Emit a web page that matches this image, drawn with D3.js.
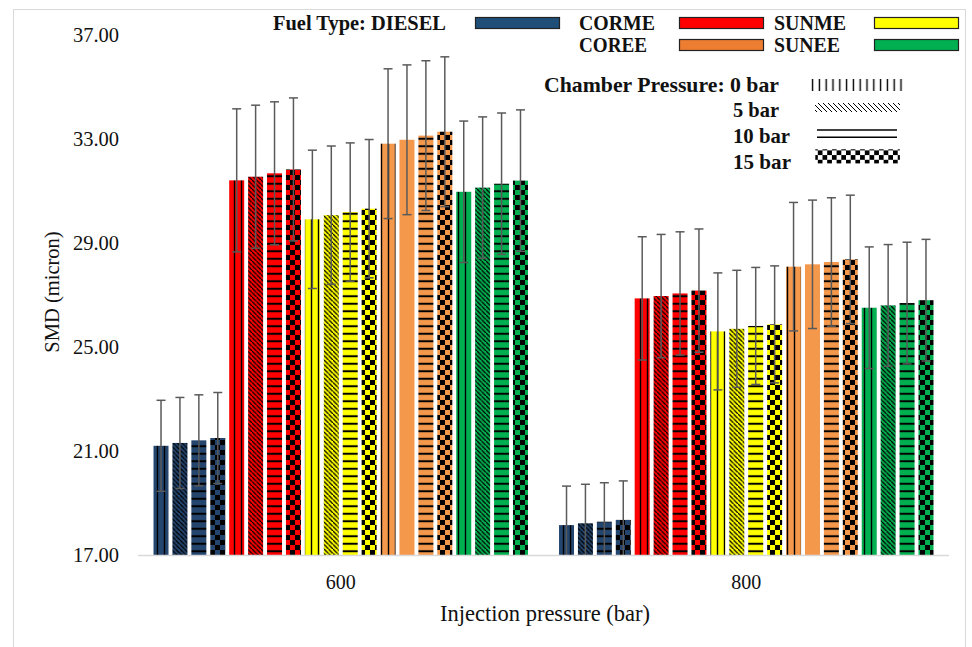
<!DOCTYPE html>
<html>
<head>
<meta charset="utf-8">
<script src="https://cdn.jsdelivr.net/npm/d3@7"></script>
<style>
  body { margin: 0; background: #fff; }
  text { font-family: "Liberation Serif", "Times New Roman", serif; fill: #111; }
</style>
</head>
<body>
<div id="chart"></div>
<script>
// values
const categories = ["600", "800"];
const fuels = ["DIESEL", "CORME", "SUNME", "COREE", "SUNEE"];
const pressures = ["0 bar", "5 bar", "10 bar", "15 bar"];
const yTicks = [17, 21, 25, 29, 33, 37];

// SMD per fuel (rows) and chamber pressure (columns)
const smd600 = [
  [21.20, 21.31, 21.41, 21.50],
  [31.41, 31.55, 31.68, 31.83],
  [29.91, 30.07, 30.19, 30.32],
  [32.82, 32.97, 33.13, 33.28],
  [30.97, 31.13, 31.28, 31.40]
];
const smd800 = [
  [18.15, 18.22, 18.28, 18.35],
  [26.87, 26.96, 27.06, 27.17],
  [25.60, 25.70, 25.81, 25.87],
  [28.09, 28.18, 28.27, 28.37],
  [26.51, 26.60, 26.69, 26.80]
];
const err600 = [1.75, 2.75, 2.66, 2.88, 2.72];
const err800 = [1.50, 2.37, 2.25, 2.47, 2.34];

const fuelColors = ["#24456e", "#ff0000", "#ffff00", "#f4984c", "#00b050"];
const legendColors = ["#1f4e79", "#ff0000", "#ffff00", "#ed7d31", "#00b050"];

const width = 972, height = 647;
const svg = d3.select("#chart").append("svg")
  .attr("width", width)
  .attr("height", height);

svg.append("rect").attr("width", width).attr("height", height).attr("fill", "#fff");
svg.append("rect")
  .attr("x", 13.5).attr("y", 9.5)
  .attr("width", 952).attr("height", 660)
  .attr("fill", "none").attr("stroke", "#d9d9d9");

const defs = svg.append("defs");
defs.append("clipPath").attr("id", "plot")
  .append("rect").attr("x", 138).attr("y", 0).attr("width", 812).attr("height", 555);

function makePattern(id, bg, kind, step, sw) {
  const p = defs.append("pattern")
    .attr("id", id)
    .attr("patternUnits", "userSpaceOnUse")
    .attr("width", kind == "check" ? step * 2 : step)
    .attr("height", kind == "check" ? step * 2 : step);
  p.append("rect").attr("width", step * 2).attr("height", step * 2).attr("fill", bg);
  if (kind == "vert") {
    p.append("line").attr("x1", step / 2).attr("x2", step / 2)
      .attr("y1", 0).attr("y2", step)
      .attr("stroke", "#000").attr("stroke-width", sw);
  } else if (kind == "diag") {
    p.append("path")
      .attr("d", `M0,0L${step},${step}M${-step},0L0,${step}M${step},${-step}L${2 * step},${step}`)
      .attr("stroke", "#000").attr("stroke-width", sw);
  } else if (kind == "horiz") {
    p.append("line").attr("x1", 0).attr("x2", step)
      .attr("y1", step / 2).attr("y2", step / 2)
      .attr("stroke", "#000").attr("stroke-width", sw);
  } else if (kind == "check") {
    p.append("rect").attr("width", step).attr("height", step).attr("fill", "#000");
    p.append("rect").attr("x", step).attr("y", step).attr("width", step).attr("height", step).attr("fill", "#000");
  }
}

const kinds = ["vert", "diag", "horiz", "check"];
const steps = [7, 4.5, 7.5, 5];
const strokes = [1.4, 1.3, 2, 0];
fuels.forEach((f, fi) => {
  kinds.forEach((k, pi) => makePattern(`p-${fi}-${pi}`, fuelColors[fi], k, steps[pi], strokes[pi]));
});
// swatches of the chamber pressure legend
makePattern("sw-0", "#fff", "vert", 6.8, 1.4);
makePattern("sw-1", "#fff", "diag", 5, 1);
makePattern("sw-3", "#fff", "check", 4.7, 0);

const rows = [];
categories.forEach((c, ci) => {
  const vals = ci == 0 ? smd600 : smd800;
  const errs = ci == 0 ? err600 : err800;
  fuels.forEach((f, fi) => {
    pressures.forEach((p, pi) => {
      rows.push({ cat: c, fi: fi, pi: pi, key: fi * 4 + pi, value: vals[fi][pi], err: errs[fi] });
    });
  });
});

const x0 = d3.scaleBand().domain(categories).range([138, 949]);
const x1 = d3.scaleBand().domain(d3.range(20))
  .range([0, x0.bandwidth()])
  .paddingInner(0.207)
  .paddingOuter(0.82);
const y = d3.scaleLinear().domain([17, 37]).range([555, 35]);

// bars
svg.append("g").selectAll("rect")
  .data(rows)
  .join("rect")
  .attr("x", d => x0(d.cat) + x1(d.key))
  .attr("y", d => y(d.value))
  .attr("width", x1.bandwidth())
  .attr("height", d => y(17) - y(d.value))
  // the COREE 5 bar column has no hatch in the original
  .attr("fill", d => (d.fi == 3 && d.pi == 1) ? fuelColors[3] : `url(#p-${d.fi}-${d.pi})`);

// error bars, cut at the axis like the original
const eb = svg.append("g").attr("clip-path", "url(#plot)")
  .attr("stroke", "#5a5a5a").attr("stroke-width", 1.5)
  .selectAll("g").data(rows).join("g")
  .attr("transform", d => `translate(${x0(d.cat) + x1(d.key) + x1.bandwidth() / 2},0)`);
eb.append("line").attr("y1", d => y(d.value - d.err)).attr("y2", d => y(d.value + d.err));
eb.append("line").attr("x1", -4.5).attr("x2", 4.5)
  .attr("y1", d => y(d.value + d.err)).attr("y2", d => y(d.value + d.err));
eb.append("line").attr("x1", -4.5).attr("x2", 4.5)
  .attr("y1", d => y(d.value - d.err)).attr("y2", d => y(d.value - d.err));

// axes
svg.append("line")
  .attr("x1", 138).attr("x2", 949).attr("y1", 555.5).attr("y2", 555.5)
  .attr("stroke", "#d9d9d9").attr("stroke-width", 1.5);

const yAxis = svg.append("g")
  .attr("transform", "translate(138,0)")
  .call(d3.axisLeft(y).tickValues(yTicks).tickFormat(d3.format(".2f")).tickSize(0).tickPadding(19));
yAxis.select(".domain").remove();
yAxis.selectAll("text")
  .attr("font-size", 20.5)
  .attr("font-family", "Liberation Serif, Times New Roman, serif")
  .attr("fill", "#111");

svg.append("g").selectAll("text")
  .data(categories)
  .join("text")
  .attr("x", d => x0(d) + x0.bandwidth() / 2)
  .attr("y", 589)
  .attr("text-anchor", "middle")
  .attr("font-size", 20)
  .text(d => d);

svg.append("text")
  .attr("x", 545).attr("y", 621)
  .attr("text-anchor", "middle")
  .attr("font-size", 22.5)
  .text("Injection pressure (bar)");

svg.append("text")
  .attr("transform", "translate(59,292) rotate(-90)")
  .attr("text-anchor", "middle")
  .attr("font-size", 20.5)
  .text("SMD (micron)");

// fuel legend
const fuelLegend = [
  { label: "Fuel Type: DIESEL", tx: 273, tw: 173, size: 20, by: 30, bx: 475 },
  { label: "CORME", tx: 579, tw: 76, size: 21, by: 30, bx: 679 },
  { label: "SUNME", tx: 774, tw: 72, size: 21, by: 30, bx: 874 },
  { label: "COREE", tx: 579, tw: 68, size: 21, by: 52, bx: 679 },
  { label: "SUNEE", tx: 774, tw: 66, size: 21, by: 52, bx: 874 }
];
const fl = svg.append("g").selectAll("g").data(fuelLegend).join("g");
fl.append("text")
  .attr("x", d => d.tx).attr("y", d => d.by)
  .attr("font-size", d => d.size)
  .attr("font-weight", "bold")
  .attr("textLength", d => d.tw)
  .attr("lengthAdjust", "spacingAndGlyphs")
  .text(d => d.label);
fl.append("rect")
  .attr("x", d => d.bx + 0.5)
  .attr("y", (d, i) => i < 3 ? 17.5 : 39.5)
  .attr("width", 84).attr("height", 11)
  .attr("fill", (d, i) => legendColors[i])
  .attr("stroke", "#222").attr("stroke-width", 1.2);

// chamber pressure legend
const presLegend = [
  { label: "Chamber Pressure: 0 bar", tx: 544, tw: 235, by: 92 },
  { label: "5 bar", tx: 733, tw: 46, by: 117 },
  { label: "10 bar", tx: 733, tw: 57, by: 143 },
  { label: "15 bar", tx: 733, tw: 58, by: 168.5 }
];
svg.append("g").selectAll("text").data(presLegend).join("text")
  .attr("x", d => d.tx).attr("y", d => d.by)
  .attr("font-size", 21)
  .attr("font-weight", "bold")
  .attr("textLength", d => d.tw)
  .attr("lengthAdjust", "spacingAndGlyphs")
  .text(d => d.label);

svg.append("rect").attr("x", 811).attr("y", 79).attr("width", 95).attr("height", 12).attr("fill", "url(#sw-0)");
svg.append("rect").attr("x", 815).attr("y", 103).attr("width", 85).attr("height", 9).attr("fill", "url(#sw-1)");
svg.append("line").attr("x1", 817).attr("x2", 897).attr("y1", 130).attr("y2", 130).attr("stroke", "#000").attr("stroke-width", 1.6);
svg.append("line").attr("x1", 817).attr("x2", 897).attr("y1", 137.3).attr("y2", 137.3).attr("stroke", "#000").attr("stroke-width", 1.6);
svg.append("rect").attr("x", 815.3).attr("y", 149.3).attr("width", 84.6).attr("height", 14.1).attr("fill", "url(#sw-3)");
</script>
</body>
</html>
